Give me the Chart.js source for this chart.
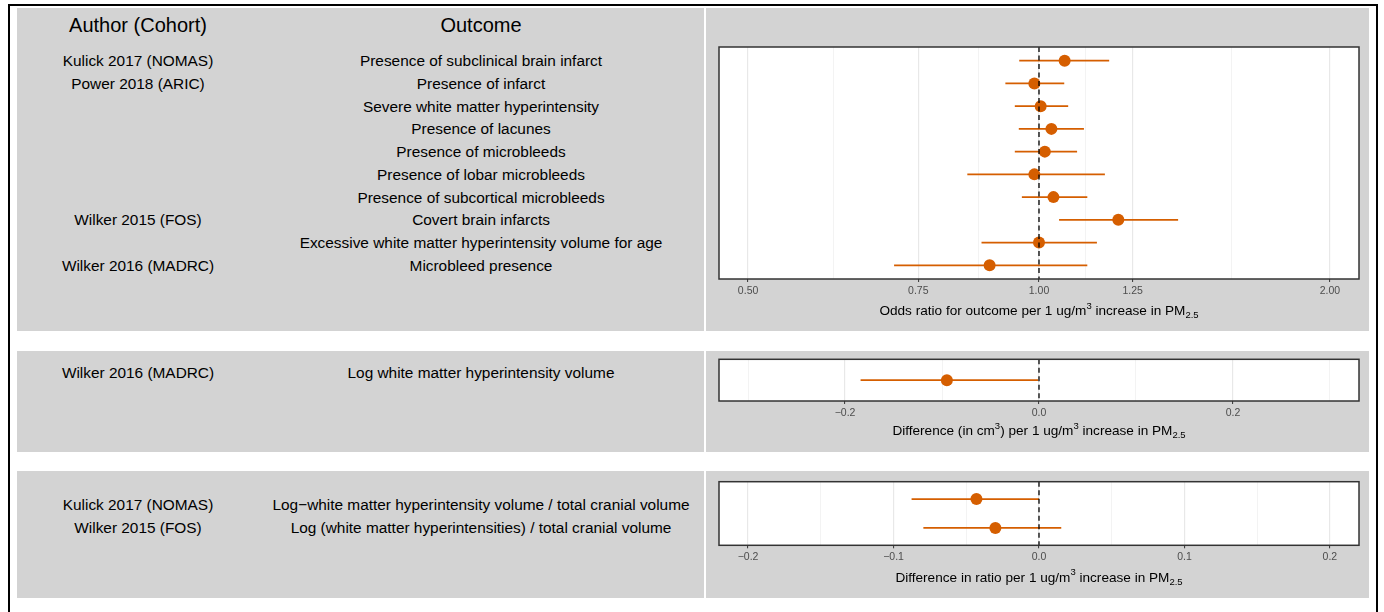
<!DOCTYPE html>
<html>
<head>
<meta charset="utf-8">
<script src="https://cdn.jsdelivr.net/npm/chart.js@4.4.1/dist/chart.umd.min.js"></script>
<style>
  html, body { margin: 0; padding: 0; background: #fff; }
  body { width: 1384px; height: 612px; position: relative; overflow: hidden;
         font-family: "Liberation Sans", Arial, sans-serif; }
  .frame { position: absolute; left: 8px; top: 4px; width: 1370px; height: 700px;
           border: 2px solid #000; box-sizing: border-box; }
  .box { position: absolute; left: 17px; width: 687px; background: #d3d3d3; }
  .lbl { position: absolute; white-space: nowrap; transform: translate(-50%, -50%);
         color: #000; font-size: 15.4px; line-height: 1.15; }
  .hdr { font-size: 20px; }
  canvas { position: absolute; left: 706px; }
</style>
</head>
<body>
<div class="frame"></div>
<div class="box" style="top:8px;height:323px"></div>
<div class="box" style="top:351px;height:101px"></div>
<div class="box" style="top:471px;height:127px"></div>
<canvas id="c1" width="663" height="323" style="top:8px"></canvas>
<canvas id="c2" width="663" height="101" style="top:351px"></canvas>
<canvas id="c3" width="663" height="127" style="top:471px"></canvas>
<div id="labels"></div>

<script>
const ORANGE = "#D55E00";

// panel 1: odds ratios
const authors1 = ["Kulick 2017 (NOMAS)", "Power 2018 (ARIC)", "", "", "", "", "",
  "Wilker 2015 (FOS)", "", "Wilker 2016 (MADRC)"];
const outcomes1 = ["Presence of subclinical brain infarct", "Presence of infarct",
  "Severe white matter hyperintensity", "Presence of lacunes", "Presence of microbleeds",
  "Presence of lobar microbleeds", "Presence of subcortical microbleeds", "Covert brain infarcts",
  "Excessive white matter hyperintensity volume for age", "Microbleed presence"];
const or1   = [1.063, 0.989, 1.004, 1.030, 1.014, 0.989, 1.035, 1.208, 1.000, 0.889];
const orLo1 = [0.954, 0.923, 0.944, 0.953, 0.944, 0.843, 0.960, 1.049, 0.872, 0.708];
const orHi1 = [1.182, 1.062, 1.072, 1.113, 1.095, 1.170, 1.122, 1.393, 1.148, 1.122];
const orLimits = [0.5, 2];
const orTicks = [0.5, 0.75, 1, 1.25, 2];
const orTickLabels = ["0.50", "0.75", "1.00", "1.25", "2.00"];
const title1 = [["Odds ratio for outcome per 1 ug/m", ""], ["3", "sup"], [" increase in PM", ""], ["2.5", "sub"]];

// panel 2: difference in volume
const authors2 = ["Wilker 2016 (MADRC)"];
const outcomes2 = ["Log white matter hyperintensity volume"];
const diff2   = [-0.095];
const diffLo2 = [-0.184];
const diffHi2 = [-0.001];
const limits2 = [-0.3, 0.3];
const ticks2 = [-0.2, 0, 0.2];
const tickLabels2 = ["\u22120.2", "0.0", "0.2"];
const minor2 = [-0.3, -0.1, 0.1, 0.3];
const title2 = [["Difference (in cm", ""], ["3", "sup"], [") per 1 ug/m", ""], ["3", "sup"], [" increase in PM", ""], ["2.5", "sub"]];

// panel 3: difference in ratio
const authors3 = ["Kulick 2017 (NOMAS)", "Wilker 2015 (FOS)"];
const outcomes3 = ["Log\u2212white matter hyperintensity volume / total cranial volume",
  "Log (white matter hyperintensities) / total cranial volume"];
const diff3   = [-0.043, -0.030];
const diffLo3 = [-0.0876, -0.0795];
const diffHi3 = [0.0, 0.0153];
const limits3 = [-0.2, 0.2];
const ticks3 = [-0.2, -0.1, 0, 0.1, 0.2];
const tickLabels3 = ["\u22120.2", "\u22120.1", "0.0", "0.1", "0.2"];
const minor3 = [-0.15, -0.05, 0.05, 0.15];
const title3 = [["Difference in ratio per 1 ug/m", ""], ["3", "sup"], [" increase in PM", ""], ["2.5", "sub"]];

Chart.defaults.font.family = '"Liberation Sans", Arial, sans-serif';

// left text columns
const labelsEl = document.getElementById("labels");
function addText(text, x, y, cls) {
  if (!text) return;
  const d = document.createElement("div");
  d.className = "lbl" + (cls ? " " + cls : "");
  d.style.left = x + "px";
  d.style.top = y + "px";
  d.textContent = text;
  labelsEl.appendChild(d);
}
const AUTHOR_X = 138, OUTCOME_X = 481, ROW_STEP = 22.75;
function addRows(authors, outcomes, firstY) {
  authors.forEach((a, i) => addText(a, AUTHOR_X, firstY + i * ROW_STEP));
  outcomes.forEach((o, i) => addText(o, OUTCOME_X, firstY + i * ROW_STEP));
}
addText("Author (Cohort)", AUTHOR_X, 25, "hdr");
addText("Outcome", OUTCOME_X, 25, "hdr");
addRows(authors1, outcomes1, 61);
addRows(authors2, outcomes2, 373);
addRows(authors3, outcomes3, 505);

function makePanel(p) {
  const n = p.est.length;
  const isLog = p.scale === "logarithmic";
  let min, max;
  if (isLog) {
    const span = Math.log(p.limits[1] / p.limits[0]);
    min = p.limits[0] * Math.exp(-0.05 * span);
    max = p.limits[1] * Math.exp(0.05 * span);
  } else {
    const span = p.limits[1] - p.limits[0];
    min = p.limits[0] - 0.05 * span;
    max = p.limits[1] + 0.05 * span;
  }
  const major = new Set(p.ticks);
  const allTicks = p.ticks.concat(p.minor).sort((a, b) => a - b);
  const isMajor = (c) => c.tick && major.has(c.tick.value);

  const datasets = [];
  datasets.push({
    type: "line", order: 0,
    data: [{ x: p.ref, y: -0.6 }, { x: p.ref, y: n - 0.4 }],
    borderColor: "#000", borderWidth: 1.3, borderDash: [5, 3.5], pointRadius: 0
  });
  datasets.push({
    type: "scatter", order: 1,
    data: p.est.map((v, i) => ({ x: v, y: i })),
    backgroundColor: ORANGE, borderColor: ORANGE, borderWidth: 0, pointRadius: 6
  });
  p.est.forEach((v, i) => {
    datasets.push({
      type: "line", order: 2,
      data: [{ x: p.lo[i], y: i }, { x: p.hi[i], y: i }],
      borderColor: ORANGE, borderWidth: 1.7, pointRadius: 0
    });
  });

  const deco = {
    id: "deco",
    beforeDraw(chart) {
      const { ctx, chartArea: a, width, height } = chart;
      ctx.save();
      ctx.fillStyle = "#d3d3d3";
      ctx.fillRect(0, 0, width, height);
      ctx.fillStyle = "#fff";
      ctx.fillRect(a.left, a.top, a.right - a.left, a.bottom - a.top);
      ctx.restore();
    },
    afterDraw(chart) {
      const { ctx, chartArea: a } = chart;
      ctx.save();
      ctx.strokeStyle = "#333";
      ctx.lineWidth = 1.5;
      ctx.strokeRect(a.left, a.top, a.right - a.left, a.bottom - a.top);
      // axis title with super/subscripts
      const big = '13.6px "Liberation Sans", Arial, sans-serif';
      const small = '9.5px "Liberation Sans", Arial, sans-serif';
      let total = 0;
      const parts = p.title.map(([t, k]) => {
        ctx.font = k ? small : big;
        const w = ctx.measureText(t).width;
        total += w;
        return { t, k, w };
      });
      let x = (a.left + a.right) / 2 - total / 2;
      const y = a.bottom + p.titleGap;
      ctx.fillStyle = "#000";
      ctx.textAlign = "left";
      ctx.textBaseline = "middle";
      parts.forEach(q => {
        ctx.font = q.k ? small : big;
        const dy = q.k === "sup" ? -5.5 : q.k === "sub" ? 4 : 0;
        ctx.fillText(q.t, x, y + dy);
        x += q.w;
      });
      ctx.restore();
    }
  };

  return new Chart(document.getElementById(p.id), {
    type: "scatter",
    data: { datasets },
    options: {
      responsive: false,
      animation: false,
      events: [],
      layout: { padding: { left: 13, right: 10, top: p.padTop, bottom: 0 } },
      plugins: { legend: { display: false }, tooltip: { enabled: false } },
      scales: {
        x: {
          type: p.scale,
          min, max,
          bounds: "data",
          afterBuildTicks: (s) => { s.ticks = allTicks.map(v => ({ value: v })); },
          afterFit: (s) => { s.height = p.axisH; },
          border: { display: false },
          grid: {
            color: (c) => isMajor(c) ? "#e8e8e8" : "#eeeeee",
            lineWidth: (c) => isMajor(c) ? 1.2 : 0.7,
            tickColor: (c) => isMajor(c) ? "#333" : "rgba(0,0,0,0)",
            tickWidth: 1,
            tickLength: 3
          },
          ticks: {
            autoSkip: false, maxRotation: 0, minRotation: 0, padding: 3,
            color: "#4d4d4d", font: { size: 10.5 },
            callback: (v) => major.has(v) ? p.tickLabels[p.ticks.indexOf(v)] : ""
          }
        },
        y: {
          type: "linear", display: false, reverse: true,
          bounds: "data", min: -0.6, max: n - 0.4
        }
      }
    },
    plugins: [deco]
  });
}

makePanel({ id: "c1", scale: "logarithmic", est: or1, lo: orLo1, hi: orHi1, ref: 1,
  limits: orLimits, ticks: orTicks, tickLabels: orTickLabels,
  minor: orTicks.slice(1).map((v, i) => Math.sqrt(v * orTicks[i])),
  title: title1, padTop: 39, axisH: 52, titleGap: 32.7 });
makePanel({ id: "c2", scale: "linear", est: diff2, lo: diffLo2, hi: diffHi2, ref: 0,
  limits: limits2, ticks: ticks2, tickLabels: tickLabels2, minor: minor2,
  title: title2, padTop: 8.3, axisH: 51, titleGap: 30.7 });
makePanel({ id: "c3", scale: "linear", est: diff3, lo: diffLo3, hi: diffHi3, ref: 0,
  limits: limits3, ticks: ticks3, tickLabels: tickLabels3, minor: minor3,
  title: title3, padTop: 10.7, axisH: 52.7, titleGap: 32.7 });
</script>
</body>
</html>
